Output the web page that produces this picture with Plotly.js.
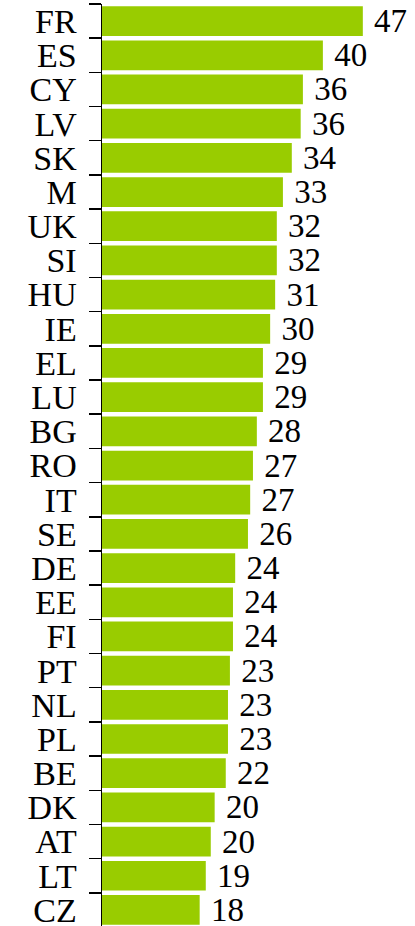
<!DOCTYPE html>
<html><head><meta charset="utf-8">
<script src="https://cdn.plot.ly/plotly-3.0.1.min.js"></script>
<style>html,body{margin:0;padding:0;background:#fff;}#chart{width:415px;height:926px;}</style>
</head><body><div id="chart"></div>
<script>
const countries = ["FR","ES","CY","LV","SK","M","UK","SI","HU","IE","EL","LU","BG","RO","IT","SE","DE","EE","FI","PT","NL","PL","BE","DK","AT","LT","CZ"];
const values = [47,39.8,36.2,35.8,34.2,32.6,31.5,31.5,31.2,30.3,29.0,29.0,27.9,27.2,26.7,26.3,24.0,23.6,23.6,23.05,22.7,22.7,22.3,20.3,19.6,18.7,17.6];
const labels = ["47","40","36","36","34","33","32","32","31","30","29","29","28","27","27","26","24","24","24","23","23","23","22","20","20","19","18"];

const trace = {
  type: "bar",
  orientation: "h",
  y: countries,
  x: values,
  text: labels,
  texttemplate: "\u00a0%{text}",
  textposition: "outside",
  constraintext: "none",
  cliponaxis: false,
  outsidetextfont: {family: "Liberation Serif, serif", size: 33, color: "#000"},
  marker: {color: "#99cc00", line: {width: 0}},
  hoverinfo: "skip"
};

const layout = {
  width: 415, height: 926,
  margin: {l: 102, r: 0, t: 4, b: 0},
  paper_bgcolor: "#fff", plot_bgcolor: "#fff",
  bargap: 0.13,
  showlegend: false,
  xaxis: {range: [0, 56.4], visible: false, fixedrange: true},
  yaxis: {
    range: [26.47, -0.5],
    tickmode: "linear", dtick: 1, tick0: 0,
    showline: true, linecolor: "#000", linewidth: 1.5,
    ticks: "outside", tickson: "boundaries", ticklen: 12, tickwidth: 1.5, tickcolor: "#000",
    ticklabelstandoff: 17,
    tickfont: {family: "Liberation Serif, serif", size: 34, color: "#000"},
    showgrid: false, zeroline: false, fixedrange: true
  }
};
Plotly.newPlot("chart", [trace], layout, {displayModeBar: false, staticPlot: true});
</script></body></html>
